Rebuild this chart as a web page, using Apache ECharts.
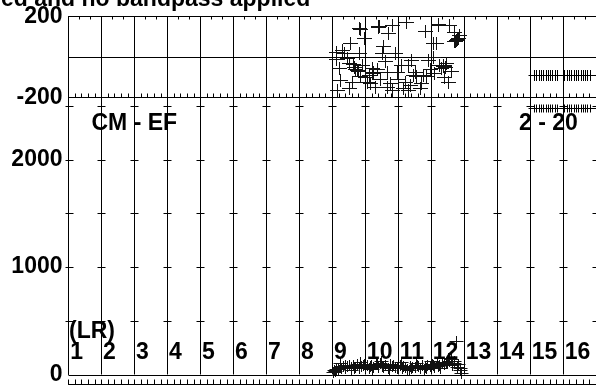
<!DOCTYPE html>
<html><head><meta charset="utf-8">
<script src="https://cdn.jsdelivr.net/npm/echarts@6/dist/echarts.min.js"></script>
<style>html,body{margin:0;padding:0;background:#fff;overflow:hidden}#c{width:596px;height:386px}</style>
</head><body><div id="c"></div>
<script>
// IF (spectral window) labels
const ifLabels = ['1','2','3','4','5','6','7','8','9','10','11','12','13','14','15','16'];
// tick labels
const phaseTickLabels = [-200, 200];
const ampTickLabels = [0, 1000, 2000];
const ampDashValues = [500, 1000, 1500, 2000, 2500];
// phase points (IF position, degrees)
const phaseIF = [8.80,8.83,9.40,9.43,9.80,9.70,10.25,10.80,11.20,11.55,11.15,11.70,11.73,11.78,11.80,8.55,8.10,8.35,8.80,9.55,9.90,9.50,8.50,8.65,8.70,8.75,8.78,8.20,9.20,9.22,9.25,9.10,9.65,10.40,10.30,10.50,10.55,10.75,10.90,11.05,11.35,11.37,11.42,11.30,11.45,11.50,8.25,8.15,8.50,9.05,9.30,9.65,9.80,10.20,10.15,10.30,10.65,10.85,9.95,8.60,8.85,11.05,11.75,
  8.12,8.30,8.45,8.62,8.90,9.00,9.15,9.35,9.45,9.60,9.75,10.00,10.10,10.35,10.45,10.70,10.95,11.10,11.25,11.40,11.60,11.85,11.68,8.95,9.38,11.22];
const phaseDeg = [143,140,154,151,159,118,175,126,159,159,69,77,80,88,93,69,27,19,19,52,19,19,-30,-47,-60,-63,-70,-55,-55,-80,-72,-88,-72,-14,-38,-72,-96,-88,-14,2,-38,-45,-50,-55,-30,-121,-113,-162,-154,-121,-146,-146,-162,-121,-154,-162,-154,-96,-72,-121,-96,69,85,
  -10,35,-5,-35,-40,-100,-130,-60,-110,-20,-130,-110,-40,-140,-90,-130,-60,-80,-40,-100,-70,110,125,95,148,165];
// amplitude points (IF position, amplitude)
const ampIF = [8.02,8.08,8.12,8.18,8.22,8.28,8.33,8.38,8.45,8.5,8.56,8.62,8.68,8.74,8.8,8.87,8.93,9.0,9.06,9.12,9.18,9.25,9.32,9.38,9.45,9.52,9.6,9.68,9.75,9.82,9.9,9.97,10.05,10.12,10.2,10.28,10.35,10.42,10.5,10.58,10.65,10.72,10.8,10.88,10.95,11.02,11.1,11.18,11.25,11.32,11.4,11.48,11.55,11.62,11.68,11.74,11.8,11.86,11.92,
  8.05,8.4,8.65,8.95,9.15,9.35,9.55,9.85,10.0,10.15,10.4,10.6,10.85,11.05,11.2,11.45,11.6,11.7,11.88,
  8.25,8.58,8.84,9.22,9.48,9.72,10.08,10.32,10.55,10.78,11.0,11.28,11.52,11.78];
const ampVal = [20,35,55,48,70,62,80,58,75,90,66,84,72,95,60,78,88,70,92,65,85,74,96,68,110,82,90,64,100,76,72,58,86,62,70,55,80,66,74,88,60,92,70,84,78,96,72,104,88,120,95,110,130,90,125,310,100,60,15,
  40,85,60,100,75,95,70,90,65,80,60,78,65,90,82,115,140,105,40,
  105,45,120,50,130,40,115,45,105,50,125,60,150,70];
// IFs 15-16 channels
const hiIF = [14.12,14.19,14.26,14.33,14.40,14.47,14.54,14.61,14.68,14.75,14.82,15.04,15.11,15.18,15.25,15.32,15.39,15.46,15.53,15.60,15.67,15.74,15.81];
const hiPhase = [-89,-88,-89,-90,-89,-88,-89,-89,-90,-88,-89,-89,-88,-90,-89,-89,-88,-89,-90,-89,-88,-89,-89];
const hiAmp = [2484,2482,2485,2483,2484,2486,2483,2482,2484,2485,2483,2484,2483,2485,2482,2484,2483,2486,2484,2483,2485,2484,2483];

const FONT = '"Liberation Sans", Arial, sans-serif';
const bold = 'bold 23px ' + FONT;

function cross(w, h, color) {
  return function (params, api) {
    const p = api.coord([api.value(0), api.value(1)]);
    const x = Math.round(p[0]) + 0.5, y = Math.round(p[1]) + 0.5;
    return { type: 'group', children: [
      { type: 'line', shape: { x1: x - w / 2, y1: y, x2: x + w / 2, y2: y }, style: { stroke: color || '#000', lineWidth: 1 } },
      { type: 'line', shape: { x1: x, y1: y - h / 2, x2: x, y2: y + h / 2 }, style: { stroke: color || '#000', lineWidth: 1 } }
    ]};
  };
}
const dashData = [];
for (let i = 0; i <= 16; i++) ampDashValues.forEach(v => dashData.push([i, v]));

const axisLineStyle = { color: '#000', width: 1 };
const labelStyle = { color: '#000', fontWeight: 'bold', fontSize: 23, fontFamily: FONT, margin: 6, formatter: v => String(v) };
const chart = echarts.init(document.getElementById('c'), null, { renderer: 'canvas' });
chart.setOption({
  animation: false,
  backgroundColor: '#fff',
  grid: [
    { left: 68.5, top: 16.5, width: 533.3, height: 81 },
    { left: 68.5, top: 97.5, width: 533.3, height: 279 }
  ],
  xAxis: [
    { gridIndex: 0, type: 'value', position: 'bottom', min: 0, max: 16, interval: 1,
      axisLine: { show: true, onZero: false, lineStyle: axisLineStyle },
      axisTick: { show: true, inside: true, length: 4, lineStyle: axisLineStyle },
      minorTick: { show: true, splitNumber: 5, length: 4, lineStyle: axisLineStyle },
      axisLabel: { show: false },
      splitLine: { show: true, lineStyle: axisLineStyle } },
    { gridIndex: 0, type: 'value', position: 'top', min: 0, max: 16, interval: 1,
      axisLine: { show: true, onZero: false, lineStyle: axisLineStyle },
      axisTick: { show: true, inside: true, length: 3, lineStyle: axisLineStyle },
      minorTick: { show: true, splitNumber: 3, length: 3, lineStyle: axisLineStyle },
      axisLabel: { show: false }, splitLine: { show: false } },
    { gridIndex: 1, type: 'value', position: 'bottom', offset: 10, min: 0, max: 16, interval: 1,
      axisLine: { show: true, onZero: false, lineStyle: axisLineStyle },
      axisTick: { show: true, inside: true, length: 5, lineStyle: axisLineStyle },
      minorTick: { show: true, splitNumber: 5, length: 5, lineStyle: axisLineStyle },
      axisLabel: { show: false },
      splitLine: { show: true, lineStyle: axisLineStyle } }
  ],
  yAxis: [
    { gridIndex: 0, type: 'value', min: -200, max: 200, interval: 200,
      axisLine: { show: true, onZero: false, lineStyle: axisLineStyle },
      axisTick: { show: false },
      axisLabel: Object.assign({ customValues: phaseTickLabels, padding: [7, 0, 0, 0] }, labelStyle),
      splitLine: { show: true, lineStyle: axisLineStyle } },
    { gridIndex: 1, type: 'value', min: 0, max: 2580,
      axisLine: { show: true, onZero: false, lineStyle: axisLineStyle },
      axisTick: { show: false },
      axisLabel: Object.assign({ customValues: ampTickLabels, padding: [3, 0, 0, 0] }, labelStyle),
      splitLine: { show: false } }
  ],
  graphic: [
    { type: 'text', x: 1, y: 0, z: 100, style: { text: 'ed and no bandpass applied', font: bold, fill: '#000', align: 'left', verticalAlign: 'middle' } },
    { type: 'text', x: 91.5, y: 123.4, z: 100, style: { text: 'CM - EF', font: bold, fill: '#000', align: 'left', verticalAlign: 'middle' } },
    { type: 'text', x: 519, y: 123.4, z: 100, style: { text: '2 - 20', font: bold, fill: '#000', align: 'left', verticalAlign: 'middle' } },
    { type: 'text', x: 69, y: 332, z: 100, style: { text: '(LR)', font: bold, fill: '#000', align: 'left', verticalAlign: 'middle' } }
  ],
  series: [
    { type: 'custom', xAxisIndex: 0, yAxisIndex: 0, clip: false, silent: true,
      data: phaseIF.map((x, i) => [x, phaseDeg[i]]), renderItem: cross(15, 13, '#111') },
    { type: 'custom', xAxisIndex: 0, yAxisIndex: 0, clip: false, silent: true,
      data: hiIF.map((x, i) => [x, hiPhase[i]]), renderItem: cross(12, 11) },
    { type: 'custom', xAxisIndex: 2, yAxisIndex: 1, clip: false, silent: true,
      data: ampIF.map((x, i) => [x, ampVal[i]]), renderItem: cross(14, 11, '#111') },
    { type: 'custom', xAxisIndex: 2, yAxisIndex: 1, clip: false, silent: true,
      data: hiIF.map((x, i) => [x, hiAmp[i]]), renderItem: cross(12, 8) },
    // amplitude level dashes at each IF boundary
    { type: 'custom', xAxisIndex: 2, yAxisIndex: 1, clip: false, silent: true,
      data: dashData,
      renderItem: function (params, api) {
        const p = api.coord([api.value(0), api.value(1)]);
        const x = Math.round(p[0]) + 0.5, y = Math.round(p[1]) + 0.5;
        return { type: 'line', shape: { x1: x - 4, y1: y, x2: x + 4, y2: y }, style: { stroke: '#000', lineWidth: 1 } };
      } },
    // zero amplitude line
    { type: 'custom', xAxisIndex: 2, yAxisIndex: 1, clip: false, silent: true,
      data: [[0, 0]],
      renderItem: function (params, api) {
        const a = api.coord([0, api.value(1)]);
        const b = api.coord([16, api.value(1)]);
        const y = Math.round(a[1]) + 0.5;
        return { type: 'line', shape: { x1: a[0], y1: y, x2: b[0], y2: y }, style: { stroke: '#000', lineWidth: 1 } };
      } },
    // IF number labels
    { type: 'custom', xAxisIndex: 2, yAxisIndex: 1, clip: false, silent: true, z: 10,
      data: ifLabels.map((t, i) => [i + 0.05, 200]),
      renderItem: function (params, api) {
        const p = api.coord([api.value(0), api.value(1)]);
        return { type: 'text', x: p[0], y: p[1], style: { text: ifLabels[params.dataIndex], font: bold, fill: '#000', align: 'left', verticalAlign: 'middle' } };
      } }
  ]
});
</script>
</body></html>
